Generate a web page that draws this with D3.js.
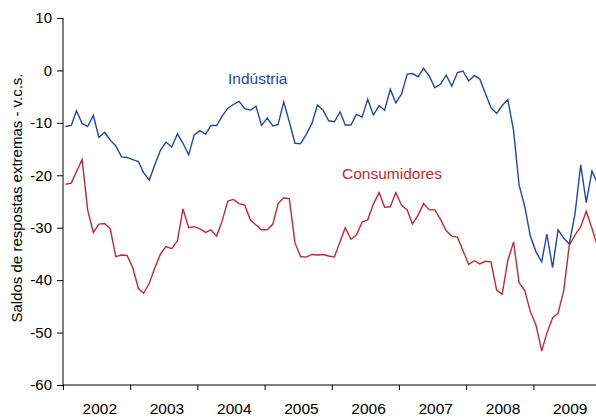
<!DOCTYPE html>
<html>
<head>
<meta charset="utf-8">
<script src="https://cdn.jsdelivr.net/npm/d3@7"></script>
<style>
  body { margin: 0; background: #fff; }
  svg { display: block; font-family: "Liberation Sans", Arial, sans-serif; }
</style>
</head>
<body>
<svg width="596" height="417"></svg>
<script>
// monthly series, Jan 2002 .. Dec 2009
var industria = [
  -10.7, -10.5, -7.7, -10.1, -10.7, -8.6, -12.8, -11.8, -13.3, -14.4, -16.5, -16.6,
  -17.0, -17.4, -19.5, -20.9, -18.0, -15.2, -13.7, -14.6, -12.1, -13.9, -16.1, -12.3,
  -11.5, -12.2, -10.5, -10.5, -8.7, -7.2, -6.5, -5.9, -7.3, -7.6, -6.8, -10.5,
  -9.1, -10.6, -10.3, -6.0, -9.8, -13.9, -14.0, -12.2, -10.1, -6.6, -7.6, -9.6,
  -9.8, -7.9, -10.4, -10.4, -8.4, -8.9, -5.5, -8.5, -6.7, -7.6, -3.6, -6.2,
  -4.5, -0.7, -0.6, -1.2, 0.4, -1.1, -3.3, -2.6, -0.9, -3.0, -0.4, -0.1,
  -2.0, -1.0, -1.6, -4.4, -7.1, -8.2, -6.7, -5.6, -11.5, -21.9, -26.0, -31.6,
  -34.6, -36.5, -31.2, -37.6, -30.4, -32.0, -33.1, -27.3, -18.0, -25.2, -19.2, -21.5
];
var consumidores = [
  -21.7, -21.5, -19.3, -17.0, -26.6, -30.9, -29.3, -29.2, -30.2, -35.5, -35.2, -35.3,
  -37.6, -41.6, -42.5, -40.6, -37.7, -35.0, -33.6, -34.0, -32.5, -26.4, -30.0, -29.8,
  -30.2, -30.9, -30.4, -31.6, -28.7, -24.9, -24.6, -25.4, -25.7, -28.5, -29.5, -30.4,
  -30.4, -29.3, -25.4, -24.3, -24.5, -32.9, -35.5, -35.6, -35.1, -35.2, -35.1, -35.4,
  -35.6, -32.7, -30.0, -32.2, -31.4, -28.9, -28.5, -25.5, -23.3, -26.1, -26.0, -23.3,
  -25.7, -26.6, -29.3, -27.6, -25.4, -26.6, -26.6, -28.4, -30.6, -31.6, -31.8, -34.4,
  -37.0, -36.3, -36.9, -36.4, -36.5, -41.9, -42.7, -36.2, -32.7, -40.5, -42.0, -46.0,
  -48.6, -53.5, -50.1, -47.2, -46.3, -41.9, -33.3, -31.4, -29.8, -26.9, -30.1, -33.5
];
var years = [2002, 2003, 2004, 2005, 2006, 2007, 2008, 2009];
var yTicks = [10, 0, -10, -20, -30, -40, -50, -60];

var svg = d3.select("svg");

var x = d3.scaleTime()
    .domain([new Date(2002, 0, 1), new Date(2010, 0, 1)])
    .range([63, 600.6]);
var y = d3.scaleLinear()
    .domain([-60, 10])
    .range([385, 18]);

function monthDate(i) { return new Date(2002, i, 15); }

// y axis
var gy = svg.append("g").attr("transform", "translate(63,0)")
  .call(d3.axisLeft(y).tickValues(yTicks).tickSize(6).tickPadding(5)
    .tickFormat(function(d) { return d; }));
gy.select(".domain").attr("d", "M0," + y(10) + "V" + y(-60)).attr("stroke", "#000");
gy.selectAll("text").attr("font-size", 15).attr("fill", "#000")
  .attr("font-family", "Liberation Sans, Arial, sans-serif");

// x axis
var gx = svg.append("g").attr("transform", "translate(0," + y(-60) + ")")
  .call(d3.axisBottom(x)
    .tickValues(years.map(function(d) { return new Date(d, 0, 1); }))
    .tickSize(5).tickFormat(""));
gx.select(".domain").attr("d", "M63,0H596").attr("stroke", "#000");

svg.append("g").selectAll("text")
  .data(years).enter().append("text")
    .attr("x", function(d) { return x(new Date(d, 6, 1)) + 3.5; })
    .attr("y", 414)
    .attr("text-anchor", "middle")
    .attr("font-size", 15.5)
    .attr("fill", "#000")
    .text(function(d) { return d; });

svg.append("text")
  .attr("transform", "translate(22,198) rotate(-90)")
  .attr("text-anchor", "middle")
  .attr("font-size", 15)
  .attr("fill", "#000")
  .text("Saldos de respostas extremas - v.c.s.");

var line = d3.line()
  .x(function(d, i) { return x(monthDate(i)); })
  .y(function(d) { return y(d); });

svg.append("path").datum(consumidores)
  .attr("d", line).attr("fill", "none")
  .attr("stroke", "#be2a32").attr("stroke-width", 1.4);

svg.append("path").datum(industria)
  .attr("d", line).attr("fill", "none")
  .attr("stroke", "#2247a0").attr("stroke-width", 1.4);

svg.append("text")
  .attr("x", 228).attr("y", 84)
  .attr("font-size", 15.5).attr("fill", "#2247a0")
  .text("Indústria");

svg.append("text")
  .attr("x", 342).attr("y", 179)
  .attr("font-size", 15.5).attr("fill", "#be2a32")
  .text("Consumidores");
</script>
</body>
</html>
